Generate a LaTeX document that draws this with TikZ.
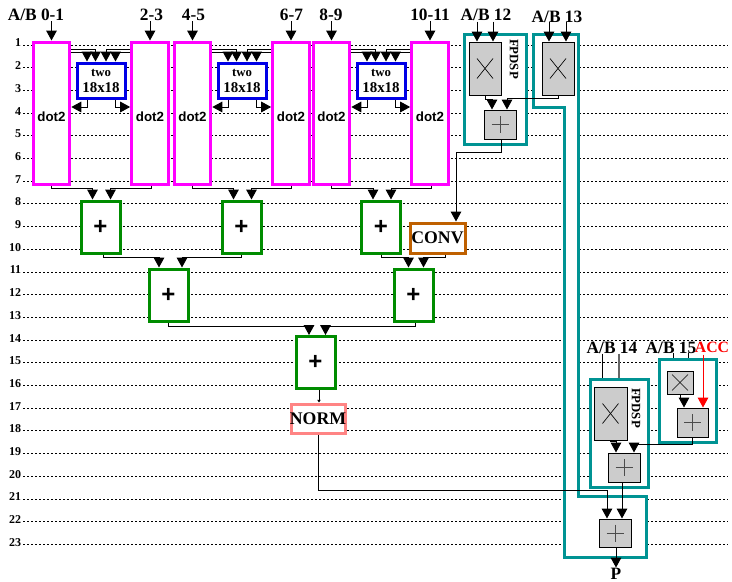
\documentclass[tikz,border=0pt]{standalone}
\usepackage{fontspec}
\setmainfont{Liberation Serif}
\setsansfont{Liberation Sans}
\usetikzlibrary{arrows.meta,calc}

\definecolor{dspteal}{HTML}{009393}
\definecolor{convbrown}{HTML}{BF6000}
\definecolor{normpink}{HTML}{FF8484}
\definecolor{addgreen}{HTML}{008C00}
\definecolor{dotmagenta}{HTML}{FF00FF}
\definecolor{twoblue}{HTML}{0000E6}

\tikzset{
    inlabel/.style={font=\fontsize{13pt}{15pt}\selectfont\bfseries,inner sep=0pt},
    rowlabel/.style={font=\fontsize{9pt}{10pt}\selectfont\bfseries,inner sep=0pt,anchor=east},
    dotbox/.style={draw=dotmagenta,fill=white,line width=2.25pt,minimum width=27.5pt,minimum height=106.5pt,
        label={[font=\sffamily\bfseries\fontsize{10pt}{12pt}\selectfont,yshift=-3pt]center:dot2}},
    twobox/.style={draw=twoblue,fill=white,line width=2.25pt,inner sep=0pt,align=center,
        minimum width=36pt,minimum height=26.25pt,font=\bfseries\fontsize{11.2pt}{12pt}\selectfont},
    plusbox/.style={draw=addgreen,fill=white,line width=2.25pt,minimum width=29.25pt,minimum height=39pt,
        font=\sffamily\bfseries\fontsize{18pt}{20pt}\selectfont},
    opbox/.style={draw=black,fill=black!20,line width=.75pt,inner sep=0pt},
    mulbox/.style 2 args={opbox,path picture={
        \draw[line width=.5pt] ($(path picture bounding box.center)+(-#1,-#2)$) -- ($(path picture bounding box.center)+(#1,#2)$);
        \draw[line width=.5pt] ($(path picture bounding box.center)+(-#1,#2)$) -- ($(path picture bounding box.center)+(#1,-#2)$);}},
    addbox/.style={opbox,minimum width=24pt,minimum height=21.75pt,path picture={
        \draw[line width=.7pt,black!70] ($(path picture bounding box.center)+(-8.5,0)$) -- ($(path picture bounding box.center)+(8.5,0)$);
        \draw[line width=.7pt,black!70] ($(path picture bounding box.center)+(0,-8.5)$) -- ($(path picture bounding box.center)+(0,8.5)$);}},
    dspbox/.style={draw=dspteal,fill=white,line width=2.25pt},
    dsptext/.style={font=\bfseries\fontsize{9.6pt}{10pt}\selectfont,rotate=-90,inner sep=0pt},
    textbox/.style={fill=white,line width=2.25pt,inner sep=0pt,font=\bfseries\fontsize{13.3pt}{15pt}\selectfont},
    wire/.style={line width=.75pt,->}
}

\begin{document}
\begin{tikzpicture}[x=.75pt,y=-.75pt,>={Triangle[width=8pt,length=7.5pt]}]
    \useasboundingbox (0,0) rectangle (732,582);

    \foreach \i in {1,...,23} {
      \pgfmathsetmacro{\rowy}{45+22.7*(\i-1)}
      \draw[line width=.75pt,dash pattern=on 1.5pt off 1.5pt] (23,\rowy) -- (728,\rowy);
      \node[rowlabel] (row\i) at (21.5,\rowy-2) {\i};
    }

    \foreach \n/\x in {A/51.5,B/150,C/192.5,D/291,E/331.5,F/430}
      \node[dotbox] (dot\n) at (\x,113) {};

    \foreach \n/\l/\r/\x in {A/dotA/dotB/101,B/dotC/dotD/242,C/dotE/dotF/381} {
      \node[twobox] (two\n) at (\x,80.5) {{\fontsize{9.6pt}{10pt}\selectfont two}\\18x18};
      \draw[wire] ($(\l.north east)+(0,9)$) -| ($(two\n.north)+(-5.5,0)$);
      \draw[wire] ($(\l.north east)+(0,12)$) -| ($(two\n.north)+(-14,0)$);
      \draw[wire] ($(\r.north west)+(0,9)$) -| ($(two\n.north)+(5,0)$);
      \draw[wire] ($(\r.north west)+(0,12)$) -| ($(two\n.north)+(14.5,0)$);
      \draw[wire] ($(two\n.south)+(-14,0)$) |- ($(\l.east)+(0,-6)$);
      \draw[wire] ($(two\n.south)+(14.5,0)$) |- ($(\r.west)+(0,-6)$);
    }

    \node[inlabel] (inA) at (36,15) {A/B 0-1};
    \node[inlabel] (inB) at (151.5,15) {2-3};
    \node[inlabel] (inC) at (193.5,15) {4-5};
    \node[inlabel] (inD) at (291.5,15) {6-7};
    \node[inlabel] (inE) at (331,15) {8-9};
    \node[inlabel] (inF) at (430,15) {10-11};
    \foreach \n in {A,B,C,D,E,F}
      \draw[wire] (in\n.south -| dot\n.north) -- (dot\n.north);

    \foreach \n/\x/\y in {A/100.5/227,B/241.5/227,C/381/227,D/168.5/295,E/413.5/295,F/315.5/362.5}
      \node[plusbox] (plus\n) at (\x,\y) {+};
    \node[textbox,draw=convbrown,minimum width=41.25pt,minimum height=22.5pt] (convA) at (437.5,238) {CONV};
    \node[textbox,draw=normpink,minimum width=40.5pt,minimum height=21.75pt] (normA) at (318,418.5) {\makebox[40pt]{NORM}};

    \draw[wire] (dotA.south) -- ++(0,3) -| ($(plusA.north)+(-8,0)$);
    \draw[wire] ($(dotB.south)+(1.5,0)$) -- ++(0,3) -| ($(plusA.north)+(10,0)$);
    \draw[wire] (dotC.south) -- ++(0,3) -| ($(plusB.north)+(-8,0)$);
    \draw[wire] (dotD.south) -- ++(0,3) -| ($(plusB.north)+(10,0)$);
    \draw[wire] (dotE.south) -- ++(0,3) -| ($(plusC.north)+(-8,0)$);
    \draw[wire] ($(dotF.south)+(1.5,0)$) -- ++(0,3) -| ($(plusC.north)+(10,0)$);
    \draw[wire] ($(plusA.south)+(2.5,0)$) -- ++(0,3) -| ($(plusD.north)+(-9.5,0)$);
    \draw[wire] (plusB.south) -- ++(0,3) -| ($(plusD.north)+(13.5,0)$);
    \draw[wire] (plusC.south) -- ++(0,3) -| ($(plusE.north)+(-5,0)$);
    \draw[wire] ($(convA.south)+(7.5,0)$) -- ++(0,3) -| ($(plusE.north)+(10,0)$);
    \draw[wire] (plusD.south) -- ++(0,4) -| ($(plusF.north)+(-6.5,0)$);
    \draw[wire] ($(plusE.south)+(1.5,0)$) -- ++(0,4) -| ($(plusF.north)+(10,0)$);
    \draw[line width=.75pt,-{Triangle[width=2.5pt,length=2pt]}] ($(plusF.south)+(3.5,0)$) -- ($(normA.north)+(1,0)$);

    \draw[dspbox] (533,34) -- (578,34) -- (578,496) -- (646,496) -- (646,557) -- (564,557) -- (564,107) -- (533,107) -- cycle;
    \node[dspbox,minimum width=46.5pt,minimum height=82.5pt] (dspA) at (495,89) {};
    \node[dspbox,minimum width=43.5pt,minimum height=81pt] (dspB) at (619,433) {};
    \node[dspbox,minimum width=42.75pt,minimum height=62.25pt] (dspC) at (687.5,400.5) {};

    \node[mulbox={8}{10},minimum width=24pt,minimum height=39.75pt] (mulA) at (485,68.5) {};
    \node[mulbox={8}{10},minimum width=24pt,minimum height=39.75pt] (mulB) at (558,68.5) {};
    \node[mulbox={8}{10},minimum width=24.75pt,minimum height=39.75pt] (mulC) at (610.5,413.5) {};
    \node[mulbox={8}{8},minimum width=19.5pt,minimum height=17.25pt] (mulD) at (680,382.5) {};
    \node[addbox] (addA) at (500,124.5) {};
    \node[addbox] (addB) at (624,467.5) {};
    \node[addbox,minimum width=23.25pt] (addC) at (692.5,422.5) {};
    \node[addbox,minimum height=21pt] (addD) at (615,533) {};

    \node[dsptext] (fpA) at (514,59) {FPDSP};
    \node[dsptext] (fpB) at (636,408) {FPDSP};

    \node[inlabel] (inG) at (486,15) {A/B 12};
    \node[inlabel] (inH) at (557,17) {A/B 13};
    \node[inlabel] (inI) at (612,348) {A/B 14};
    \node[inlabel] (inJ) at (671,348) {A/B 15};
    \node[inlabel,text=red,font=\bfseries\fontsize{11.8pt}{14pt}\selectfont] (accA) at (712,347) {ACC};
    \node[inlabel] (outP) at (616,573.5) {P};

    \draw[wire] ($(mulA.north)+(-8,-20)$) -- ($(mulA.north)+(-8,0)$);
    \draw[wire] ($(mulA.north)+(8,-20)$) -- ($(mulA.north)+(8,0)$);
    \draw[wire] ($(mulB.north)+(-9,-20)$) -- ($(mulB.north)+(-9,0)$);
    \draw[wire] ($(mulB.north)+(8,-20)$) -- ($(mulB.north)+(8,0)$);
    \draw[line width=.75pt] ($(dspB.north)+(-17,-24)$) -- ($(dspB.north)+(-17,0)$);
    \draw[line width=1pt,black!60] ($(dspB.north)+(0,-24)$) -- (dspB.north);
    \draw[line width=.75pt] ($(dspC.north)+(-14.5,-5)$) -- ($(dspC.north)+(-14.5,0)$);
    \draw[line width=.75pt] ($(dspC.north)+(.5,-5)$) -- ($(dspC.north)+(.5,0)$);
    \draw[wire,red] ($(addC.north)+(10.5,-53)$) -- ($(addC.north)+(10.5,0)$);

    \draw[wire] (mulA.south) -- ++(0,4) -| ($(addA.north)+(-8,0)$);
    \draw[wire] (mulB.south) -- ++(0,3) -| ($(addA.north)+(7,0)$);
    \draw[wire] ($(addA.south)+(1,0)$) -- ++(0,13) -| ($(convA.north)+(18.5,0)$);
    \draw[wire] (mulC.south) -- ++(0,1) -| ($(addB.north)+(-8,0)$);
    \draw[wire] (mulD.south) -- ++(0,4) -| ($(addC.north)+(-8.5,0)$);
    \draw[wire] (addC.south) -- ++(0,7) -| ($(addB.north)+(10,0)$);
    \draw[wire] ($(addB.south)+(-2,0)$) -- ($(addD.north)+(7,0)$);
    \draw[wire] (normA.south) |- ($(addD.north)+(-8,-28)$) -- ($(addD.north)+(-8,0)$);
    \draw[wire] (addD.south -| outP.north) -- (outP.north);
\end{tikzpicture}
\end{document}
